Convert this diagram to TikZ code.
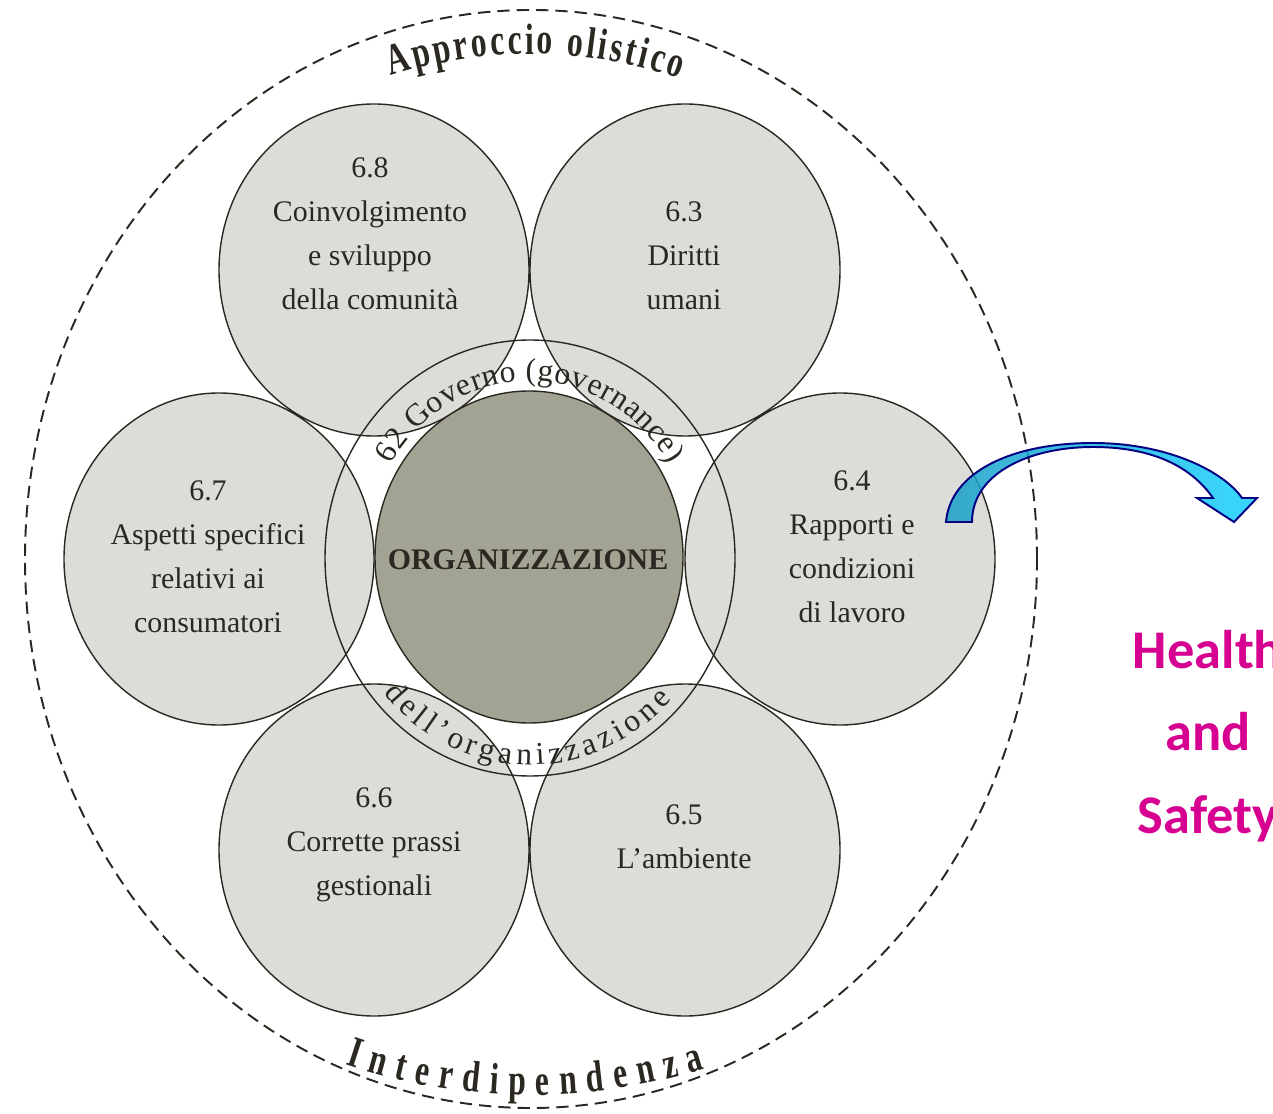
\documentclass[tikz,border=0pt]{standalone}
\usepackage{fontspec}
\setmainfont{Liberation Serif}
\newfontfamily\hsfont{Carlito}
\newfontfamily\rimfamily[FakeStretch=0.72]{Liberation Serif Bold}
\usetikzlibrary{decorations.text}
\definecolor{petalgray}{RGB}{220,221,216}
\definecolor{orggray}{RGB}{163,163,147}
\definecolor{inkline}{RGB}{43,39,33}
\definecolor{hsmagenta}{RGB}{214,0,145}
\definecolor{arrowdark}{RGB}{27,160,200}
\definecolor{arrowlight}{RGB}{22,208,255}
\definecolor{arrownavy}{RGB}{0,0,128}
\newcommand\ringfont{\fontsize{18}{20}\selectfont}
\newcommand\rimfont{\rimfamily\fontsize{25}{28}\selectfont}
\tikzset{
  petal/.style={fill=petalgray},
  petalline/.style={draw=inkline, line width=0.8pt},
  lbl/.style={align=center, text=inkline, font=\fontsize{17}{25}\selectfont},
  hslbl/.style={align=center, text=hsmagenta, font=\hsfont\bfseries\fontsize{31}{47}\selectfont},
  hsarrow/.style={draw=arrownavy, line width=1.1pt, left color=arrowdark, right color=arrowlight, fill opacity=0.85},
  rimtext/.style={decorate, decoration={text along path, text align={fit to path}, text color=inkline}}
}
\begin{document}
\begin{tikzpicture}[x=0.02cm, y=0.02cm]
  \useasboundingbox (0,0) rectangle (1273,1113);
  \coordinate (outer) at (531,554);
  \coordinate (ring) at (530,555);
  \coordinate (org) at (529,556);
  \coordinate (c68) at (374,843);
  \coordinate (c63) at (685,843);
  \coordinate (c67) at (219,554);
  \coordinate (c64) at (840,554);
  \coordinate (c66) at (374,263);
  \coordinate (c65) at (685,263);

  % the six petals
  \fill[petal] (c68) ellipse [x radius=155, y radius=166];
  \fill[petal] (c63) ellipse [x radius=155, y radius=166];
  \fill[petal] (c67) ellipse [x radius=155, y radius=166];
  \fill[petal] (c64) ellipse [x radius=155, y radius=166];
  \fill[petal] (c66) ellipse [x radius=155, y radius=166];
  \fill[petal] (c65) ellipse [x radius=155, y radius=166];
  \draw[petalline] (c68) ellipse [x radius=155, y radius=166]
    (c63) ellipse [x radius=155, y radius=166]
    (c67) ellipse [x radius=155, y radius=166]
    (c64) ellipse [x radius=155, y radius=166]
    (c66) ellipse [x radius=155, y radius=166]
    (c65) ellipse [x radius=155, y radius=166];

  % governance ring and organisation
  \draw[petalline] (ring) ellipse [x radius=205, y radius=218];
  \filldraw[fill=orggray, petalline] (org) ellipse [x radius=154, y radius=166];

  % holistic boundary
  \draw[inkline, line width=1.1pt, dash pattern=on 7pt off 4pt] (outer) ellipse [x radius=506, y radius=549];

  \path[rimtext, decoration={text={|\ringfont|62 Governo (governance)}}]
    (ring) ++(148:164 and 177) arc[start angle=148, end angle=32, x radius=164, y radius=177];
  \path[rimtext, decoration={text={|\ringfont|dell'organizzazione}}]
    (ring) ++(221:194 and 207) arc[start angle=221, end angle=317, x radius=194, y radius=207];
  \path[rimtext, decoration={text={|\rimfont|Approccio olistico}}]
    (outer) ++(107:480 and 505) arc[start angle=107, end angle=72, x radius=480, y radius=505];
  \path[rimtext, decoration={text={|\rimfont|Interdipendenza}}]
    (outer) ++(250.6:560 and 536) arc[start angle=250.6, end angle=288.1, x radius=560, y radius=536];

  \node[lbl, font=\bfseries\fontsize{17}{20}\selectfont] (orgname) at (528,553) {ORGANIZZAZIONE};
  \node[lbl] (l68) at (370,879) {6.8\\Coinvolgimento\\e sviluppo\\della comunità};
  \node[lbl] (l63) at (684,857) {6.3\\Diritti\\umani};
  \node[lbl] (l67) at (208,556) {6.7\\Aspetti specifici\\relativi ai\\consumatori};
  \node[lbl] (l64) at (852,566) {6.4\\Rapporti e\\condizioni\\di lavoro};
  \node[lbl] (l66) at (374,268) {6.6\\Corrette prassi\\gestionali};
  \node[lbl] (l65) at (684,276) {6.5\\L'ambiente};

  % curved arrow to health and safety
  \path[hsarrow] (946,591) .. controls (950,640) and (1010,670) .. (1093,670)
    .. controls (1170,670) and (1225,640) .. (1242,615)
    -- (1257,615) -- (1234,591) -- (1197,615) -- (1213,615)
    .. controls (1190,648) and (1150,666) .. (1093,666)
    .. controls (1030,666) and (972,640) .. (972,591) -- cycle;
  \node[hslbl] (hs) at (1208,377) {Health\\and\\Safety};
\end{tikzpicture}
\end{document}
